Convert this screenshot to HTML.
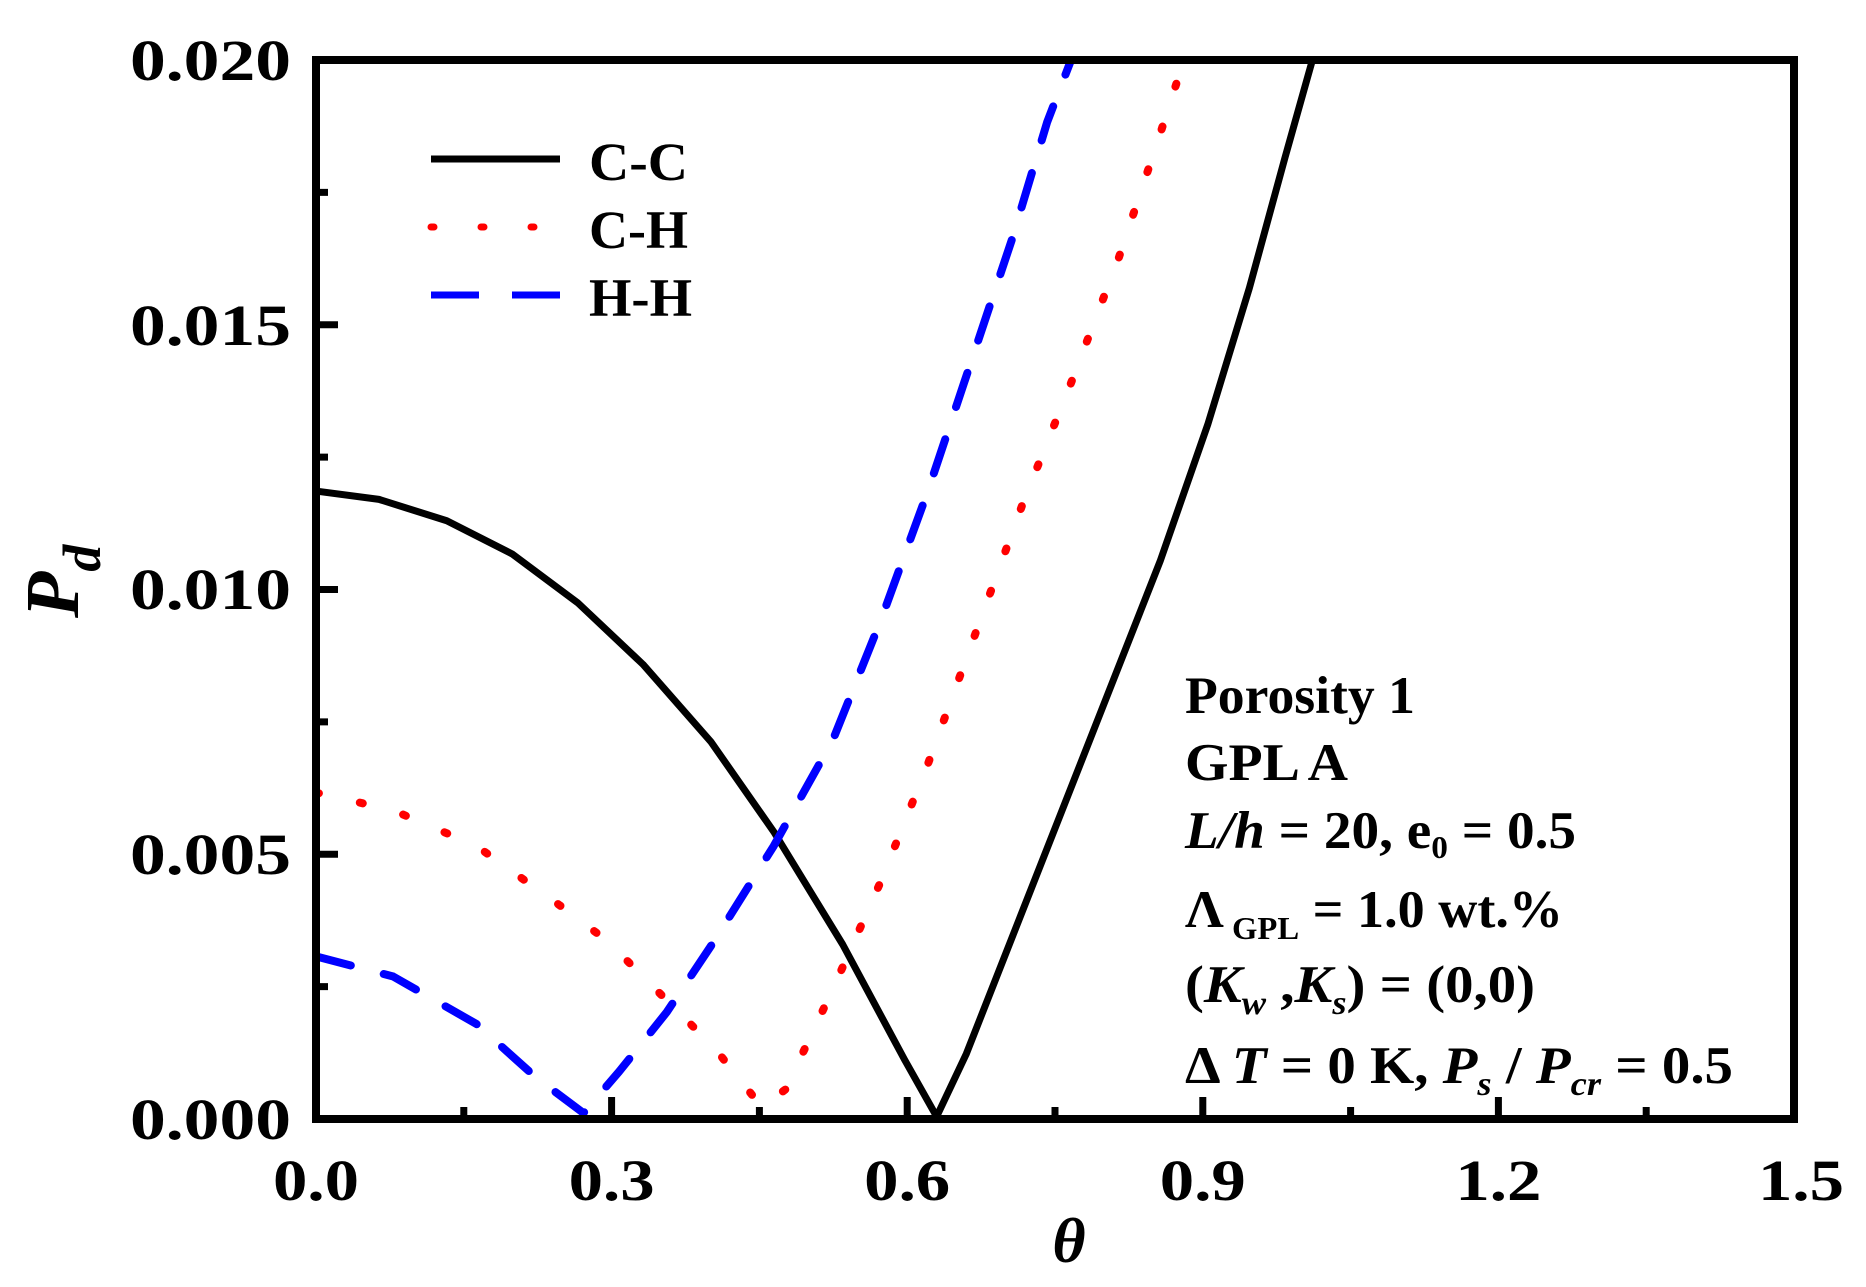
<!DOCTYPE html>
<html><head><meta charset="utf-8"><style>html,body{margin:0;padding:0;background:#fff}svg{display:block}text{font-family:"Liberation Serif","Times New Roman",Times,serif;font-weight:bold}</style></head>
<body>
<svg width="1866" height="1287" viewBox="0 0 1866 1287" xmlns="http://www.w3.org/2000/svg">
<g transform="matrix(1.189 0 0 1.187 0.9 3.2)" fill="none" stroke-linejoin="round">
<polyline stroke="#000" stroke-width="7" vector-effect="non-scaling-stroke" points="265,411 318,418 375,436 430,464 485,505 540,557 597,622 650,698 708,793 760,890 787,938 812,885 865,750 920,610 975,470 1015,355 1050,240 1080,130 1103,48"/>
<polyline stroke="#f00" stroke-width="8" stroke-linecap="round" stroke-dasharray="3 42" vector-effect="non-scaling-stroke" points="265,665 330,680 400,710 470,760 510,790 550,830 600,880 640,930 660,915 700,830 740,740 780,640 820,530 860,420 900,320 940,215 975,110 995,48"/>
<polyline stroke="#00f" stroke-width="8" stroke-linecap="round" stroke-dasharray="36 34" vector-effect="non-scaling-stroke" points="265,803 330,820 400,860 450,905 490,935 520,900 560,850 600,790 650,710 700,620 740,520 780,410 810,320 850,200 880,100 900,48"/>
</g>
<rect x="316" y="60" width="1478" height="1059" fill="none" stroke="#000" stroke-width="8"/>
<g stroke="#000" stroke-width="7">
<path d="M316,1119v-22M611.6,1119v-22M907.2,1119v-22M1202.8,1119v-22M1498.4,1119v-22"/>
<path d="M463.8,1119v-12M759.4,1119v-12M1055,1119v-12M1350.6,1119v-12M1646.2,1119v-12"/>
<path d="M316,854.25h22M316,589.5h22M316,324.75h22"/>
<path d="M316,986.6h12M316,721.9h12M316,457.1h12M316,192.4h12"/>
</g>
<g font-size="58" text-anchor="end">
<text x="291" y="80" textLength="161" lengthAdjust="spacingAndGlyphs">0.020</text>
<text x="291" y="345" textLength="161" lengthAdjust="spacingAndGlyphs">0.015</text>
<text x="291" y="609" textLength="161" lengthAdjust="spacingAndGlyphs">0.010</text>
<text x="291" y="874" textLength="161" lengthAdjust="spacingAndGlyphs">0.005</text>
<text x="291" y="1139" textLength="161" lengthAdjust="spacingAndGlyphs">0.000</text>
</g>
<g font-size="58" text-anchor="middle">
<text x="316" y="1200" textLength="86" lengthAdjust="spacingAndGlyphs">0.0</text>
<text x="611.6" y="1200" textLength="86" lengthAdjust="spacingAndGlyphs">0.3</text>
<text x="907.2" y="1200" textLength="86" lengthAdjust="spacingAndGlyphs">0.6</text>
<text x="1202.8" y="1200" textLength="86" lengthAdjust="spacingAndGlyphs">0.9</text>
<text x="1498.4" y="1200" textLength="86" lengthAdjust="spacingAndGlyphs">1.2</text>
<text x="1801" y="1200" textLength="86" lengthAdjust="spacingAndGlyphs">1.5</text>
</g>
<text x="1069" y="1262" font-size="64" font-style="italic" text-anchor="middle">θ</text>
<text transform="translate(78,618) rotate(-90)" font-size="76" font-style="italic">P<tspan font-size="54" dy="22">d</tspan></text>
<g stroke-width="7" fill="none">
<line x1="431" y1="159" x2="560" y2="159" stroke="#000"/>
<line x1="431" y1="227" x2="560" y2="227" stroke="#f00" stroke-linecap="round" stroke-dasharray="3 47"/>
<line x1="431" y1="295" x2="560" y2="295" stroke="#00f" stroke-dasharray="48 33"/>
</g>
<g font-size="54">
<text x="589" y="180" textLength="99" lengthAdjust="spacingAndGlyphs">C-C</text>
<text x="589" y="248" textLength="99" lengthAdjust="spacingAndGlyphs">C-H</text>
<text x="589" y="316" textLength="103" lengthAdjust="spacingAndGlyphs">H-H</text>
</g>
<g font-size="53">
<text x="1185" y="713" textLength="230" lengthAdjust="spacingAndGlyphs">Porosity 1</text>
<text x="1185" y="780" textLength="163" lengthAdjust="spacingAndGlyphs">GPL A</text>
<text x="1185" y="848" textLength="391" lengthAdjust="spacingAndGlyphs"><tspan font-style="italic">L/h</tspan> = 20, e<tspan font-size="32" dy="10">0</tspan><tspan dy="-10"> = 0.5</tspan></text>
<text x="1185" y="927" textLength="378" lengthAdjust="spacingAndGlyphs">Λ<tspan font-size="32" dy="12"> GPL</tspan><tspan dy="-12"> = 1.0 wt.%</tspan></text>
<text x="1185" y="1002" textLength="350" lengthAdjust="spacingAndGlyphs">(<tspan font-style="italic">K</tspan><tspan font-style="italic" font-size="34" dy="12">w</tspan><tspan dy="-12"> ,</tspan><tspan font-style="italic">K</tspan><tspan font-style="italic" font-size="34" dy="12">s</tspan><tspan dy="-12">) = (0,0)</tspan></text>
<text x="1185" y="1083" textLength="548" lengthAdjust="spacingAndGlyphs">Δ <tspan font-style="italic">T</tspan> = 0 K,  <tspan font-style="italic">P</tspan><tspan font-style="italic" font-size="34" dy="12">s</tspan><tspan dy="-12"> / </tspan><tspan font-style="italic">P</tspan><tspan font-style="italic" font-size="34" dy="12">cr</tspan><tspan dy="-12"> = 0.5</tspan></text>
</g>
</svg>
</body></html>
